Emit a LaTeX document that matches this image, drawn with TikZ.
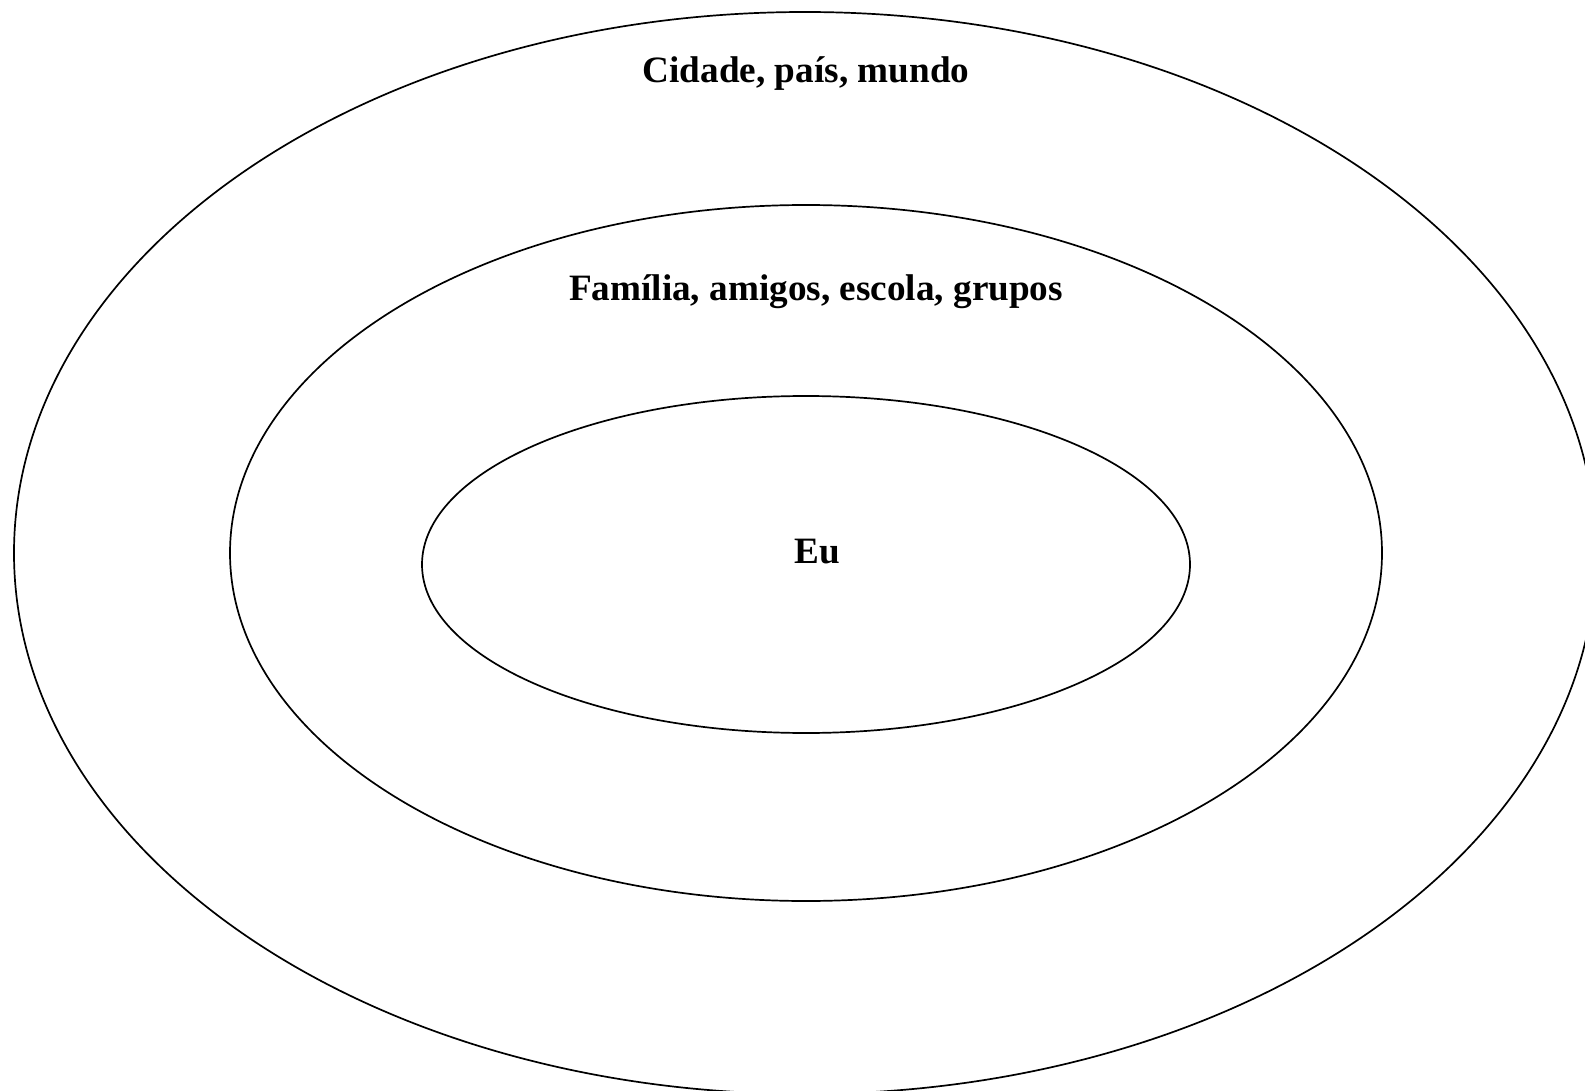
\documentclass[tikz,border=0pt]{standalone}
\usepackage{fontspec}
\setmainfont{Liberation Serif}
\usetikzlibrary{shapes.geometric}
\tikzset{
  ring/.style={draw=black, line width=0.85pt, ellipse, inner sep=0pt, outer sep=0pt},
  lbl/.style={font=\fontsize{18.6pt}{21pt}\selectfont\bfseries, inner sep=0pt, anchor=base}
}
\begin{document}
\begin{tikzpicture}[x=0.5pt,y=-0.5pt]
\useasboundingbox (0,0) rectangle (1585,1091);
\clip (0,0) rectangle (1585,1091);
\node[ring, minimum width=791pt, minimum height=541pt] (outer) at (805,553) {};
\node[ring, minimum width=576pt, minimum height=348pt] (middle) at (806,553) {};
\node[ring, minimum width=384pt, minimum height=168.5pt] (inner) at (806,564.5) {};
\node[lbl] (t1) at (806,83) {Cidade, país, mundo};
\node[lbl] (t2) at (816,300) {Família, amigos, escola, grupos};
\node[lbl] (t3) at (817,563) {Eu};
\end{tikzpicture}
\end{document}
